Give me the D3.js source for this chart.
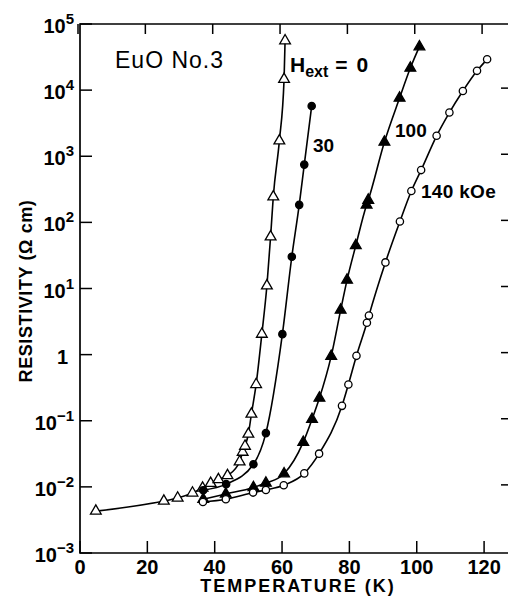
<!DOCTYPE html>
<html>
<head>
<meta charset="utf-8">
<script src="https://cdn.jsdelivr.net/npm/d3@7"></script>
<style>
  body { margin: 0; background: #fff; }
  svg { display: block; font-family: "Liberation Sans", Arial, sans-serif; }
  .axis-line { stroke: #000; stroke-width: 1.7; fill: none; }
  .tick-mark { stroke: #000; stroke-width: 1.5; }
  .tick-label { font-size: 20px; font-weight: bold; fill: #000; }
  .axis-title { font-size: 18px; font-weight: bold; fill: #000; }
  .curve { fill: none; stroke: #000; stroke-width: 1.6; }
  .series-label { font-size: 19px; font-weight: bold; fill: #000; }
</style>
</head>
<body>
<svg id="chart" width="508" height="596"></svg>
<script>
// temperatures (K) and resistivities (ohm cm)
const tempH0 = [4.7, 24.9, 29.0, 33.4, 36.4, 38.8, 41.1, 43.8, 47.4, 48.3, 49.0, 50.0, 50.9, 52.3, 54.0, 55.5, 56.6, 57.4, 59.2, 60.6, 60.9];
const rhoH0 = [0.0043, 0.0061, 0.0068, 0.0081, 0.0096, 0.0113, 0.0129, 0.0148, 0.024, 0.0335, 0.0413, 0.063, 0.126, 0.354, 2.04, 11.0, 60.5, 244, 1710, 14550, 55850];

const tempH30 = [36.6, 43.4, 51.5, 55.2, 60.1, 62.9, 65.1, 66.6, 68.8];
const rhoH30 = [0.0089, 0.0110, 0.0220, 0.065, 2.04, 30.2, 184, 748, 5740];

const tempH100 = [36.6, 43.3, 51.5, 55.2, 60.6, 66.3, 68.9, 71.1, 74.6, 77.4, 79.3, 81.9, 85.1, 85.6, 90.4, 94.9, 98.1, 100.8];
const rhoH100 = [0.0065, 0.0078, 0.0098, 0.0114, 0.0158, 0.0474, 0.105, 0.220, 0.948, 4.71, 13.4, 44.6, 183, 217, 1640, 7590, 21570, 45400];

const tempH140 = [36.5, 43.3, 51.4, 55.2, 60.5, 66.6, 71.0, 77.8, 79.7, 82.1, 85.2, 85.8, 90.7, 95.0, 98.4, 101.3, 105.9, 109.7, 113.7, 117.9, 120.9];
const rhoH140 = [0.0059, 0.0065, 0.0082, 0.0090, 0.0106, 0.0160, 0.0318, 0.168, 0.354, 0.959, 3.03, 3.89, 24.8, 103, 298, 618, 2040, 4580, 9690, 19580, 29240];

const xTicks = [0, 20, 40, 60, 80, 100, 120];
const yTickExps = [-3, -2, -1, 0, 1, 2, 3, 4, 5];

const svg = d3.select('#chart');

const x = d3.scaleLinear().domain([0, 127.1]).range([80, 508]);
const y = d3.scaleLog().domain([1e-3, 1e5]).range([553, 24]);

// frame: left, bottom and top edges (right edge falls off the picture)
svg.append('path')
    .attr('class', 'axis-line')
    .attr('d', `M510,${y(1e5)}H${x(0)}V${y(1e-3)}H510`);

// x ticks, bottom and top, pointing inward
xTicks.forEach(t => {
  svg.append('line').attr('class', 'tick-mark')
      .attr('x1', x(t)).attr('x2', x(t))
      .attr('y1', y(1e-3)).attr('y2', y(1e-3) - 12);
  svg.append('line').attr('class', 'tick-mark')
      .attr('x1', x(t) - 2).attr('x2', x(t) - 2)
      .attr('y1', y(1e5)).attr('y2', y(1e5) + 10);
  svg.append('text').attr('class', 'tick-label')
      .attr('x', x(t)).attr('y', 574)
      .attr('text-anchor', 'middle')
      .text(t);
});

// y ticks, left and right
yTickExps.forEach(e => {
  const v = Math.pow(10, e);
  svg.append('line').attr('class', 'tick-mark')
      .attr('x1', x(0)).attr('x2', x(0) + 12)
      .attr('y1', y(v)).attr('y2', y(v));
  if (e > -3 && e < 5) {
    svg.append('line').attr('class', 'tick-mark')
        .attr('x1', 501).attr('x2', 508)
        .attr('y1', y(v) - 2).attr('y2', y(v) - 2);
  }
  const lab = svg.append('text').attr('class', 'tick-label')
      .attr('x', 74).attr('y', y(v) + 9)
      .attr('text-anchor', 'end');
  if (e === 0) {
    lab.attr('x', 68).text('1');
  } else {
    lab.append('tspan').text('10');
    lab.append('tspan')
        .attr('dy', -9)
        .style('font-size', '15px')
        .text(e < 0 ? '\u2212' + (-e) : e);
  }
});

// axis titles
svg.append('text').attr('class', 'axis-title')
    .attr('x', 298).attr('y', 592)
    .attr('text-anchor', 'middle')
    .style('letter-spacing', '2px')
    .text('TEMPERATURE (K)');

svg.append('text').attr('class', 'axis-title')
    .attr('transform', 'translate(32,291) rotate(-90)')
    .attr('text-anchor', 'middle')
    .style('letter-spacing', '0.6px')
    .text('RESISTIVITY (\u03A9 cm)');

// curves
const line = d3.line()
    .x(d => x(d[0]))
    .y(d => y(d[1]))
    .curve(d3.curveMonotoneX);

const series = [
  {t: tempH0, r: rhoH0, mark: 'triangle', fill: '#fff'},
  {t: tempH30, r: rhoH30, mark: 'circle', fill: '#000'},
  {t: tempH100, r: rhoH100, mark: 'triangle', fill: '#000'},
  {t: tempH140, r: rhoH140, mark: 'circle', fill: '#fff'}
];

series.forEach(s => {
  const pts = s.t.map((t, i) => [t, s.r[i]]);
  svg.append('path').attr('class', 'curve').attr('d', line(pts));
});

series.forEach(s => {
  const pts = s.t.map((t, i) => [t, s.r[i]]);
  const sym = d3.symbol()
      .type(s.mark === 'triangle' ? d3.symbolTriangle : d3.symbolCircle)
      .size(s.mark === 'triangle' ? 50 : 42);
  svg.selectAll(null).data(pts).join('path')
      .attr('transform', d => `translate(${x(d[0])},${y(d[1])})`)
      .attr('d', sym())
      .attr('fill', s.fill)
      .attr('stroke', '#000')
      .attr('stroke-width', 1.3);
});

// annotations
svg.append('text')
    .attr('x', 115).attr('y', 68)
    .style('font-size', '23px')
    .style('letter-spacing', '1px')
    .text('EuO No.3');

const h = svg.append('text').attr('class', 'series-label')
    .attr('x', 290).attr('y', 72)
    .style('font-size', '21px');
h.append('tspan').text('H');
h.append('tspan').attr('dy', 5).style('font-size', '16px').text('ext');
h.append('tspan').attr('dy', -5).attr('dx', 7).text('=');
h.append('tspan').attr('dx', 9).text('0');

svg.append('text').attr('class', 'series-label')
    .attr('x', 313).attr('y', 152).text('30');
svg.append('text').attr('class', 'series-label')
    .attr('x', 395).attr('y', 137).text('100');
svg.append('text').attr('class', 'series-label')
    .attr('x', 421).attr('y', 198)
    .style('letter-spacing', '0.3px')
    .text('140 kOe');
</script>
</body>
</html>
